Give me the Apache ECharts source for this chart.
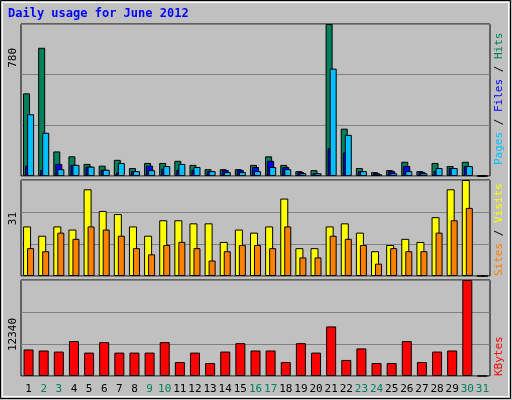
<!DOCTYPE html>
<html>
<head>
<meta charset="utf-8">
<script src="https://cdn.jsdelivr.net/npm/echarts@6/dist/echarts.min.js"></script>
<style>html,body{margin:0;padding:0;background:#c0c0c0}#chart{width:512px;height:400px}</style>
</head>
<body>
<div id="chart"></div>
<script>
var days = ['1','2','3','4','5','6','7','8','9','10','11','12','13','14','15','16','17','18','19','20','21','22','23','24','25','26','27','28','29','30','31'];
var weekend = ['2','3','9','10','16','17','23','24','30','31'];
var hits  = [424,658,126,101,62,53,83,41,67,67,78,57,35,35,35,57,101,57,25,30,780,243,41,20,30,73,25,67,51,73,0];
var files = [53,32,62,57,48,32,18,25,53,37,32,32,25,30,30,46,78,46,20,14,142,121,25,14,25,51,20,25,41,51,0];
var pages = [317,222,35,57,48,32,67,25,30,51,62,46,25,20,20,25,46,35,14,14,551,211,25,9,14,25,14,41,41,51,0];
var visits = [16,13,16,15,28,21,20,16,13,18,18,17,17,11,15,14,16,25,9,9,16,17,14,8,10,12,11,19,28,31,0];
var sites  = [9,8,14,12,16,15,13,9,7,10,11,9,5,8,10,10,9,16,6,6,13,12,10,4,9,8,8,14,18,22,0];
var kbytes = [3410,3277,3141,4487,3007,4353,3007,3007,3007,4353,1795,3007,1660,3141,4218,3277,3277,1795,4218,3007,6372,2064,3545,1660,1660,4487,1795,3141,3277,12340,0];

var mono = 'DejaVu Sans Mono';
var chart = echarts.init(document.getElementById('chart'));
var grids = [
  {left: 21, right: 22, top: 24, height: 152},
  {left: 21, right: 22, top: 180, height: 96},
  {left: 21, right: 22, top: 280, height: 96}
];
grids.forEach(function (g) { g.show = true; g.backgroundColor = '#c0c0c0'; g.borderColor = '#000'; g.borderWidth = 1; });

function xAx(i, show) {
  return {type: 'category', gridIndex: i, data: days, axisTick: {show: false},
    axisLine: {show: false},
    axisLabel: {show: show, margin: 8, fontFamily: mono, fontSize: 11, interval: 0,
      color: function (v) { return weekend.indexOf(v) >= 0 ? '#00805c' : '#000'; }}};
}
function yAx(i, max) {
  return {type: 'value', gridIndex: i, min: 0, max: max, interval: max / 3,
    axisLabel: {show: false}, axisLine: {show: false}, axisTick: {show: false},
    splitLine: {lineStyle: {color: '#808080', width: 1}}};
}
function bar(name, data, color, x, w, gap) {
  return {name: name, type: 'bar', xAxisIndex: x, yAxisIndex: x, data: data, barWidth: w, barGap: gap,
    itemStyle: {color: color, borderColor: '#000', borderWidth: 1}, silent: true, animation: false};
}

chart.setOption({
  backgroundColor: '#c0c0c0',
  animation: false,
  grid: grids,
  xAxis: [xAx(0, false), xAx(1, false), xAx(2, true)],
  yAxis: [yAx(0, 780), yAx(1, 31), yAx(2, 12340)],
  series: [
    bar('Hits', hits, '#00805c', 0, 7, '-71%'),
    bar('Files', files, '#0000ff', 0, 7, '-71%'),
    bar('Pages', pages, '#00c0ff', 0, 7, '-71%'),
    bar('Visits', visits, '#ffff00', 1, 8, '-50%'),
    bar('Sites', sites, '#ff8000', 1, 7, '-50%'),
    bar('KBytes', kbytes, '#ff0000', 2, 10, '0%')
  ],
  graphic: [
    {type: 'rect', shape: {x: 0.5, y: 0.5, width: 510, height: 398}, style: {fill: 'none', stroke: '#000'}},
    {type: 'rect', shape: {x: 2.5, y: 2.5, width: 506, height: 394}, style: {fill: 'none', stroke: '#fff'}},
    {type: 'text', left: 8, top: 8, style: {text: 'Daily usage for June 2012', fill: '#0000ff', font: 'bold 12px "DejaVu Sans Mono"'}},
    {type: 'text', x: 8, y: 48, rotation: Math.PI / 2, style: {text: '780', fill: '#000', font: '11px "DejaVu Sans Mono"', align: 'right', verticalAlign: 'top'}},
    {type: 'text', x: 8, y: 212, rotation: Math.PI / 2, style: {text: '31', fill: '#000', font: '11px "DejaVu Sans Mono"', align: 'right', verticalAlign: 'top'}},
    {type: 'text', x: 8, y: 318, rotation: Math.PI / 2, style: {text: '12340', fill: '#000', font: '11px "DejaVu Sans Mono"', align: 'right', verticalAlign: 'top'}},
    {type: 'text', x: 494, y: 165, rotation: Math.PI / 2, style: {
      text: '{p|Pages} {s|/} {f|Files} {s|/} {h|Hits}', font: '11px "DejaVu Sans Mono"', align: 'left', verticalAlign: 'top',
      rich: {p: {fill: '#00c0ff'}, f: {fill: '#0000ff'}, h: {fill: '#00805c'}, s: {fill: '#000'}}}},
    {type: 'text', x: 494, y: 276, rotation: Math.PI / 2, style: {
      text: '{a|Sites} {s|/} {b|Visits}', font: '11px "DejaVu Sans Mono"', align: 'left', verticalAlign: 'top',
      rich: {a: {fill: '#ff8000'}, b: {fill: '#ffff00'}, s: {fill: '#000'}}}},
    {type: 'text', x: 494, y: 376, rotation: Math.PI / 2, style: {text: 'KBytes', fill: '#ff0000', font: '11px "DejaVu Sans Mono"', align: 'left', verticalAlign: 'top'}}
  ]
});
</script>
</body>
</html>
